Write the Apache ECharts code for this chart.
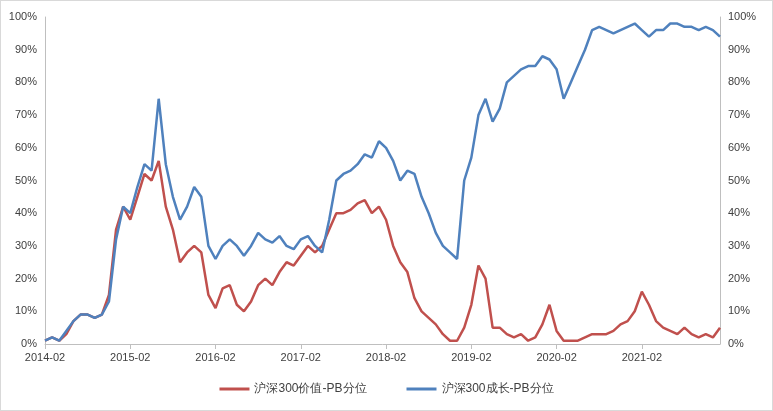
<!DOCTYPE html>
<html><head><meta charset="utf-8">
<script src="https://cdn.jsdelivr.net/npm/echarts@6/dist/echarts.min.js"></script>
<style>html,body{margin:0;padding:0;background:#fff}#c{width:773px;height:411px;box-sizing:border-box;border:1px solid #d9d9d9}</style>
</head><body><div id="c"></div>
<script>
const startYear = 2014, startMonth = 2, monthCount = 96;
const categories = [];
for (let i = 0; i < monthCount; i++) {
  const m = (startMonth - 1 + i) % 12 + 1, y = startYear + Math.floor((startMonth - 1 + i) / 12);
  categories.push(y + '-' + String(m).padStart(2, '0'));
}
const valueSeries = [1,2,1,3,7,9,9,8,9,15,35,42,38,45,52,50,56,42,35,25,28,30,28,15,11,17,18,12,10,13,18,20,18,22,25,24,27,30,28,30,35,40,40,41,43,44,40,42,38,30,25,22,14,10,8,6,3,1,1,5,12,24,20,5,5,3,2,3,1,2,6,12,4,1,1,1,2,3,3,3,4,6,7,10,16,12,7,5,4,3,5,3,2,3,2,5];
const growthSeries = [1,2,1,4,7,9,9,8,9,13,32,42,40,48,55,53,75,55,45,38,42,48,45,30,26,30,32,30,27,30,34,32,31,33,30,29,32,33,30,28,38,50,52,53,55,58,57,62,60,56,50,53,52,45,40,34,30,28,26,50,57,70,75,68,72,80,82,84,85,85,88,87,84,75,80,85,90,96,97,96,95,96,97,98,96,94,96,96,98,98,97,97,96,97,96,94];
const valueName = '沪深300价值-PB分位', growthName = '沪深300成长-PB分位';
const yAxisBase = {type:'value',min:0,max:100,interval:10,
  axisLabel:{formatter:'{value}%',color:'#404040',fontSize:11},
  axisLine:{show:true,lineStyle:{color:'#bfbfbf'}},axisTick:{show:false},splitLine:{show:false}};
const chart = echarts.init(document.getElementById('c'));
chart.setOption({
  animation:false,
  grid:{left:44,right:52,top:16,bottom:66,containLabel:false},
  legend:{bottom:10,itemWidth:30,itemHeight:3,icon:'rect',itemGap:40,textStyle:{fontSize:12,color:'#404040'},data:[valueName,growthName]},
  xAxis:{type:'category',data:categories,boundaryGap:false,
    axisLabel:{interval:11,color:'#404040',fontSize:11},
    axisTick:{show:true,interval:11,lineStyle:{color:'#bfbfbf'}},axisLine:{lineStyle:{color:'#bfbfbf'}}},
  yAxis:[Object.assign({position:'left'},yAxisBase),Object.assign({position:'right'},yAxisBase)],
  series:[
    {name:valueName,type:'line',data:valueSeries,showSymbol:false,lineStyle:{width:2.5,color:'#C0504D'},itemStyle:{color:'#C0504D'}},
    {name:growthName,type:'line',data:growthSeries,showSymbol:false,lineStyle:{width:2.5,color:'#4F81BD'},itemStyle:{color:'#4F81BD'}}
  ]
});
</script></body></html>
